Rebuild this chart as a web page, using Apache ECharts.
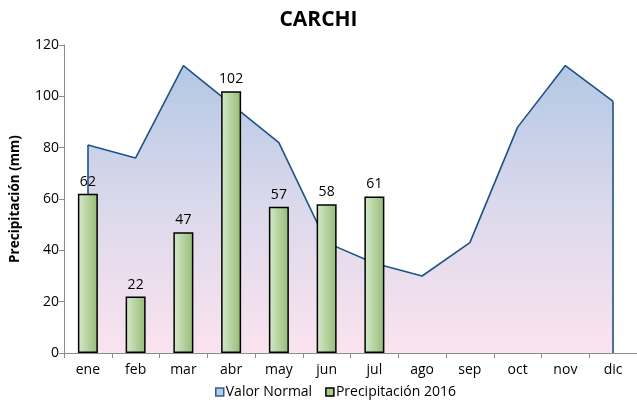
<!DOCTYPE html>
<html><head><meta charset="utf-8">
<script src="https://cdn.jsdelivr.net/npm/echarts@6/dist/echarts.min.js"></script>
<style>html,body{margin:0;padding:0;background:#fff}#c{width:637px;height:406px}</style>
</head><body><div id="c"></div>
<script>
const categories = ['ene','feb','mar','abr','may','jun','jul','ago','sep','oct','nov','dic'];
const valorNormal = [81, 76, 112, 97, 82, 43, 35, 30, 43, 88, 112, 98];
const precip2016 = [62, 22, 47, 102, 57, 58, 61];
const yTicks = [0, 20, 40, 60, 80, 100, 120];

const FONT = '"Open Sans", Lato, sans-serif';
const chart = echarts.init(document.getElementById('c'));
chart.setOption({
  animation: false,
  title: { text: 'CARCHI', left: 'center', top: 5,
    textStyle: { fontFamily: FONT, fontWeight: 'bold', fontSize: 21, color: '#000' } },
  legend: {
    bottom: 2, left: 210, itemWidth: 8, itemHeight: 8, itemGap: 13,
    textStyle: { fontFamily: FONT, fontSize: 14, color: '#000', padding: [0,0,0,-3] },
    data: [
      { name: 'Valor Normal', icon: 'rect', itemStyle: { color: '#b8cbe5', borderColor: '#2e5f95', borderWidth: 1.5 } },
      { name: 'Precipitación 2016', icon: 'rect', itemStyle: { color: '#a9cb8c', borderColor: '#000', borderWidth: 1.5 } }
    ]
  },
  grid: { left: 62, top: 45, width: 580, height: 308, containLabel: false },
  xAxis: {
    type: 'category', data: categories, boundaryGap: true,
    axisLine: { lineStyle: { color: '#8c8c8c', width: 1 } },
    axisTick: { show: true, alignWithLabel: false, length: 5, lineStyle: { color: '#8c8c8c' } },
    axisLabel: { fontFamily: FONT, fontSize: 14, color: '#000', margin: 10 }
  },
  yAxis: {
    type: 'value', min: yTicks[0], max: yTicks[yTicks.length-1], interval: 20,
    name: 'Precipitación (mm)', nameLocation: 'middle', nameGap: 42,
    nameTextStyle: { fontFamily: FONT, fontWeight: 'bold', fontSize: 13.5, color: '#000' },
    axisLine: { show: true, lineStyle: { color: '#8c8c8c', width: 1 } },
    axisTick: { show: true, length: 5, lineStyle: { color: '#8c8c8c' } },
    axisLabel: { fontFamily: FONT, fontSize: 14, color: '#000', margin: 5 },
    splitLine: { show: false }
  },
  series: [
    {
      name: 'Valor Normal', type: 'line', data: valorNormal, symbol: 'none',
      lineStyle: { color: '#1f5286', width: 1.6 },
      itemStyle: { color: '#b8cbe5' },
      areaStyle: {
        opacity: 1,
        color: new echarts.graphic.LinearGradient(0, 0, 0, 1, [
          { offset: 0, color: '#b3c8e4' },
          { offset: 0.5, color: '#dcd9ec' },
          { offset: 1, color: '#fbe3ef' }
        ])
      },
      markLine: {
        silent: true, symbol: 'none', label: { show: false }, z: 3,
        lineStyle: { color: '#1f5286', width: 1.6, type: 'solid' },
        data: [
          [{ coord: [categories[0], 0] }, { coord: [categories[0], valorNormal[0]] }],
          [{ coord: [categories[11], 0] }, { coord: [categories[11], valorNormal[11]] }]
        ]
      },
      z: 1
    },
    {
      name: 'Precipitación 2016', type: 'bar', data: precip2016, barWidth: 20,
      itemStyle: {
        borderColor: '#000', borderWidth: 1.5,
        color: new echarts.graphic.LinearGradient(0, 0, 1, 0, [
          { offset: 0, color: '#d6eacb' },
          { offset: 1, color: '#95bb74' }
        ])
      },
      label: { show: true, position: 'top', distance: 5, fontFamily: FONT, fontSize: 14, color: '#000' },
      z: 6
    }
  ]
});
</script></body></html>
